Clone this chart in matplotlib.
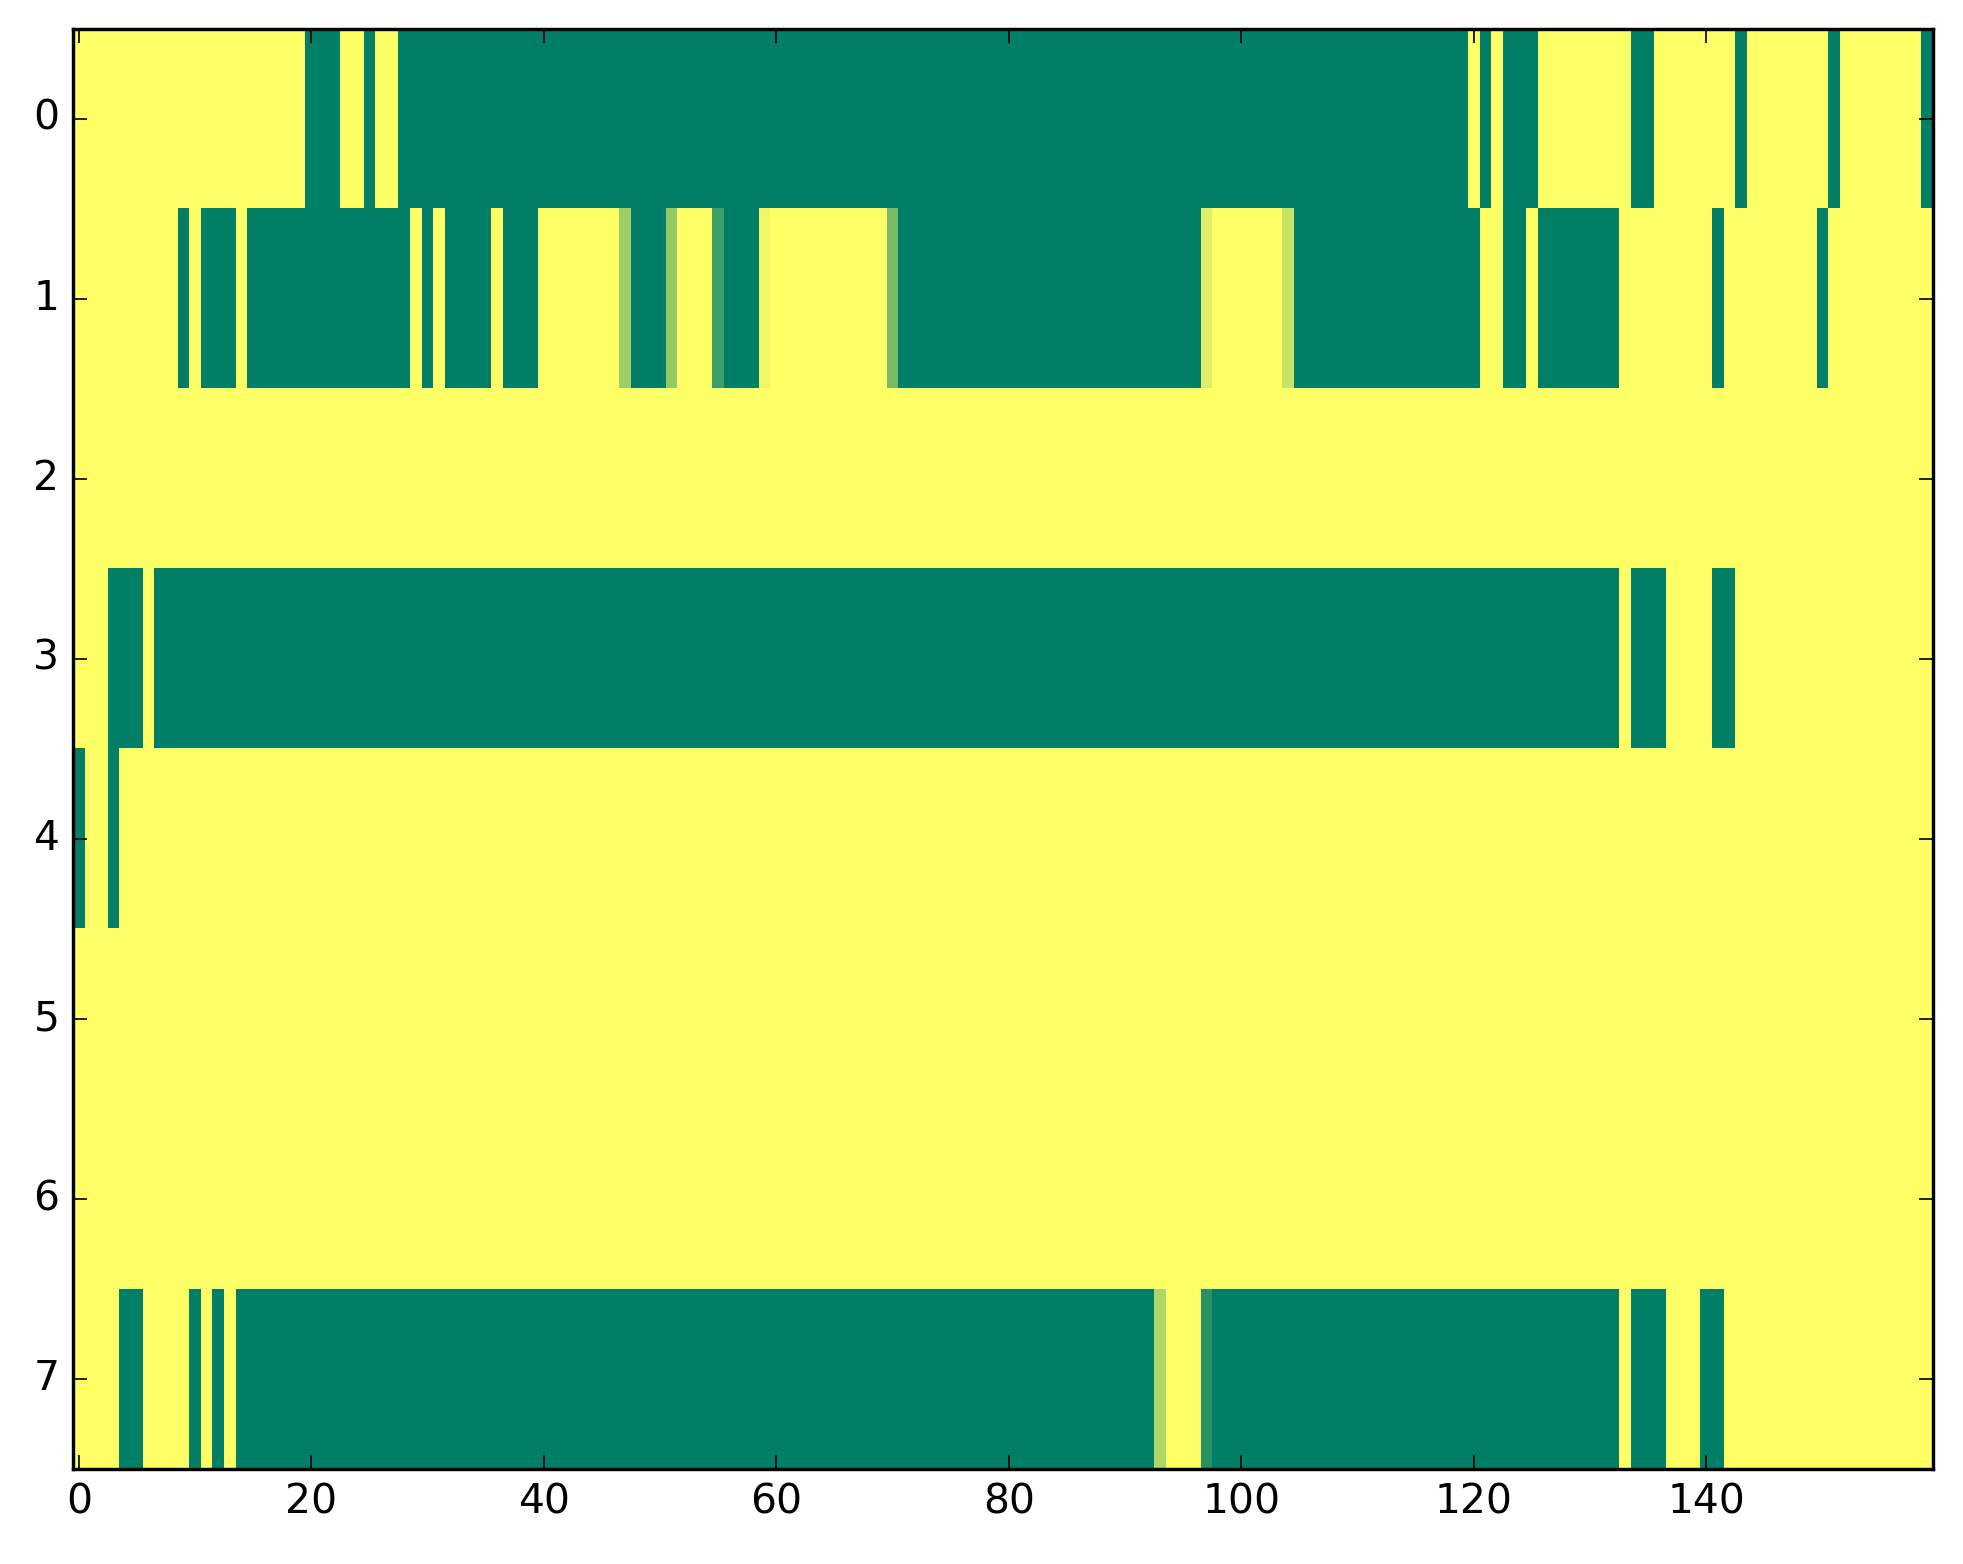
import matplotlib
matplotlib.use('Agg')
import matplotlib.pyplot as plt
import numpy as np

# Dimensões da matriz (linhas x colunas)
n_linhas = 8
n_colunas = 160

# Colunas com valor 1 (verde) em cada linha, como intervalos inclusivos
verdes_linha0 = [(20, 22), (25, 25), (28, 119), (121, 121), (123, 125),
                 (134, 135), (143, 143), (151, 151), (159, 159)]
verdes_linha1 = [(9, 9), (11, 13), (15, 28), (30, 30), (32, 35), (37, 39),
                 (48, 50), (56, 58), (71, 96), (105, 120), (123, 124),
                 (126, 132), (141, 141), (150, 150)]
verdes_linha2 = []
verdes_linha3 = [(3, 5), (7, 132), (134, 136), (141, 142)]
verdes_linha4 = [(0, 0), (3, 3)]
verdes_linha5 = []
verdes_linha6 = []
verdes_linha7 = [(4, 5), (10, 10), (12, 12), (14, 92), (98, 132),
                 (134, 136), (140, 141)]

# Células com valores intermediários: (linha, coluna, valor)
parciais = [(1, 47, 0.38), (1, 51, 0.42), (1, 55, 0.76), (1, 59, 0.06),
            (1, 70, 0.53), (1, 97, 0.13), (1, 104, 0.22),
            (7, 93, 0.32), (7, 97, 0.85)]

xticks = [0, 20, 40, 60, 80, 100, 120, 140]
yticks = [0, 1, 2, 3, 4, 5, 6, 7]


def montar_matriz():
    linhas = [verdes_linha0, verdes_linha1, verdes_linha2, verdes_linha3,
              verdes_linha4, verdes_linha5, verdes_linha6, verdes_linha7]
    mat = np.zeros((n_linhas, n_colunas))
    for i, intervalos in enumerate(linhas):
        for ini, fim in intervalos:
            mat[i, ini:fim + 1] = 1.0
    for i, j, v in parciais:
        mat[i, j] = v
    return mat


def plotar_matriz(mat):
    plt.style.use('classic')
    fig = plt.figure(figsize=(8, 6.374), dpi=245.375, facecolor='white')
    ax = fig.add_axes([0.0372, 0.0607, 0.9475, 0.9208])
    ax.imshow(mat, cmap='summer_r', aspect='auto', interpolation='nearest',
              vmin=0, vmax=1)
    ax.set_xticks(xticks)
    ax.set_yticks(yticks)
    ax.set_xlim(-0.5, n_colunas - 0.5)
    ax.set_ylim(n_linhas - 0.5, -0.5)
    fig.savefig('out.png', dpi=245.375, facecolor='white')
    return None


plotar_matriz(montar_matriz())
